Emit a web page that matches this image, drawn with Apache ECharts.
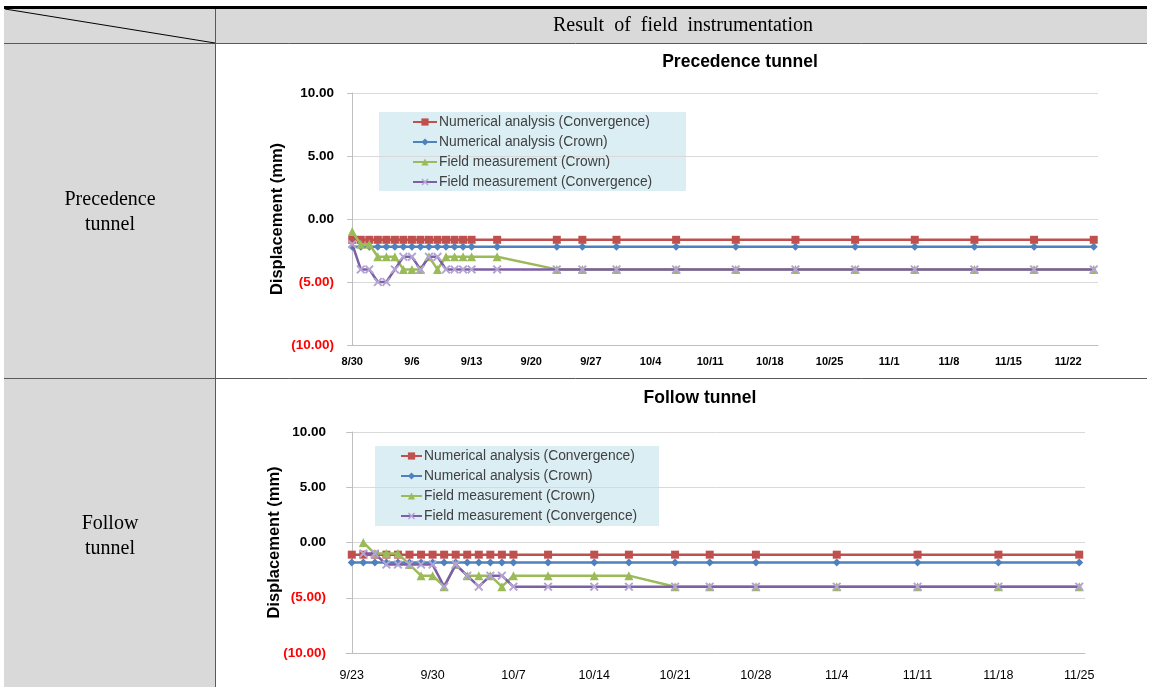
<!DOCTYPE html>
<html><head><meta charset="utf-8">
<script src="https://cdn.jsdelivr.net/npm/echarts@6/dist/echarts.min.js"></script>
<style>html,body{margin:0;padding:0;background:#fff}#c{width:1149px;height:687px}</style>
</head><body><div id="c"></div><script>
// ---------- data ----------
const seriesNames = ['Numerical analysis (Convergence)', 'Numerical analysis (Crown)', 'Field measurement (Crown)', 'Field measurement (Convergence)'];

// Precedence tunnel
const dates1 = ['8/30','8/31','9/1','9/2','9/3','9/4','9/5','9/6','9/7','9/8','9/9','9/10','9/11','9/12','9/13','9/16','9/23','9/26','9/30','10/7','10/14','10/21','10/28','11/4','11/11','11/18','11/25'];
const numConv1 = [-1.65,-1.65,-1.65,-1.65,-1.65,-1.65,-1.65,-1.65,-1.65,-1.65,-1.65,-1.65,-1.65,-1.65,-1.65,-1.65,-1.65,-1.65,-1.65,-1.65,-1.65,-1.65,-1.65,-1.65,-1.65,-1.65,-1.65];
const numCrown1 = [-2.2,-2.2,-2.2,-2.2,-2.2,-2.2,-2.2,-2.2,-2.2,-2.2,-2.2,-2.2,-2.2,-2.2,-2.2,-2.2,-2.2,-2.2,-2.2,-2.2,-2.2,-2.2,-2.2,-2.2,-2.2,-2.2,-2.2];
const fieldCrown1 = [-1,-2,-2,-3,-3,-3,-4,-4,-4,-3,-4,-3,-3,-3,-3,-3,-4,-4,-4,-4,-4,-4,-4,-4,-4,-4,-4];
const fieldConv1 = [-2,-4,-4,-5,-5,-4,-3,-3,-4,-3,-3,-4,-4,-4,-4,-4,-4,-4,-4,-4,-4,-4,-4,-4,-4,-4,-4];
const xTicks1 = ['8/30','9/6','9/13','9/20','9/27','10/4','10/11','10/18','10/25','11/1','11/8','11/15','11/22'];

// Follow tunnel
const dates2 = ['9/23','9/24','9/25','9/26','9/27','9/28','9/29','9/30','10/1','10/2','10/3','10/4','10/5','10/6','10/7','10/10','10/14','10/17','10/21','10/24','10/28','11/4','11/11','11/18','11/25'];
const numConv2 = [-1.1,-1.1,-1.1,-1.1,-1.1,-1.1,-1.1,-1.1,-1.1,-1.1,-1.1,-1.1,-1.1,-1.1,-1.1,-1.1,-1.1,-1.1,-1.1,-1.1,-1.1,-1.1,-1.1,-1.1,-1.1];
const numCrown2 = [-1.8,-1.8,-1.8,-1.8,-1.8,-1.8,-1.8,-1.8,-1.8,-1.8,-1.8,-1.8,-1.8,-1.8,-1.8,-1.8,-1.8,-1.8,-1.8,-1.8,-1.8,-1.8,-1.8,-1.8,-1.8];
const fieldCrown2 = [null,0,-1,-1,-1,-2,-3,-3,-4,-2,-3,-3,-3,-4,-3,-3,-3,-3,-4,-4,-4,-4,-4,-4,-4];
const fieldConv2 = [null,-1,-1,-2,-2,-2,-2,-2,-4,-2,-3,-4,-3,-3,-4,-4,-4,-4,-4,-4,-4,-4,-4,-4,-4];
const xTicks2 = ['9/23','9/30','10/7','10/14','10/21','10/28','11/4','11/11','11/18','11/25'];

const yTickLabels = ['(10.00)','(5.00)','0.00','5.00','10.00'];

// ---------- helpers ----------
function dayOf(md) { const p = md.split('/'); return Date.UTC(2013, +p[0]-1, +p[1]) / 86400000; }
function offsets(list, start) { const s = dayOf(start); return list.map(d => dayOf(d) - s); }
function pairs(dates, vals, start) {
  const xs = offsets(dates, start);
  return xs.map((x, i) => [x, vals[i]]).filter(p => p[1] !== null);
}

const SANS = "'Liberation Sans', Arial, sans-serif";
const SERIF = "'Liberation Serif', 'Times New Roman', serif";
const colors = ['#c0504d', '#4f81bd', '#9bbb59', '#7d5fa6'];
const markColors = ['#c0504d', '#4f81bd', '#9bbb59', '#b3a4d3'];
const symbols = ['rect', 'diamond', 'triangle', 'path://M0,1.5L1.5,0L5,3.5L8.5,0L10,1.5L6.5,5L10,8.5L8.5,10L5,6.5L1.5,10L0,8.5L3.5,5Z'];
const symSizes = [8, 8, 9, 9];

function makeX(idx, ticks, start, min, max, fs, bold, margin, family) {
  const vals = offsets(ticks, start);
  return {
    type: 'value', gridIndex: idx, min: min, max: max,
    axisLine: { show: true, onZero: false, lineStyle: { color: '#bfbfbf', width: 1 } },
    axisTick: { show: false },
    splitLine: { show: false },
    axisLabel: {
      customValues: vals, margin: margin, fontSize: fs, fontWeight: bold ? 'bold' : 'normal',
      fontFamily: family, color: '#000',
      formatter: v => { const k = vals.indexOf(v); return k >= 0 ? ticks[k] : ''; }
    }
  };
}
function makeY(idx, gap, margin) {
  return {
    type: 'value', gridIndex: idx, min: -10, max: 10, interval: 5,
    name: 'Displacement (mm)', nameLocation: 'middle', nameGap: gap, nameMoveOverlap: false,
    nameTextStyle: { fontSize: 16.5, fontWeight: 'bold', color: '#000', fontFamily: SANS },
    axisLine: { show: true, lineStyle: { color: '#bfbfbf', width: 1 } },
    axisTick: { show: true, length: 5, lineStyle: { color: '#bfbfbf' } },
    splitLine: { show: true, lineStyle: { color: '#d9d9d9', width: 1 } },
    axisLabel: {
      margin: margin, fontSize: 13.5, fontWeight: 'bold', fontFamily: SANS,
      formatter: (v, i) => yTickLabels[Math.round((v + 10) / 5)],
      color: v => (+v < 0 ? '#ff0000' : '#000')
    }
  };
}
function makeSeries(axisIdx, dates, arrays, start) {
  return arrays.map((arr, k) => ({
    type: 'line', name: seriesNames[k], xAxisIndex: axisIdx, yAxisIndex: axisIdx,
    data: pairs(dates, arr, start),
    symbol: symbols[k], symbolSize: symSizes[k], showAllSymbol: true,
    lineStyle: { color: colors[k], width: 2.5 },
    itemStyle: { color: markColors[k] },
    z: 2 + k, animation: false
  }));
}
function makeLegend(left, top, iw) {
  return {
    orient: 'vertical', left: left, top: top, padding: 0,
    itemWidth: iw, itemHeight: 9, itemGap: 6, selectedMode: false,
    data: seriesNames,
    textStyle: { fontSize: 13.8, color: '#404040', fontFamily: SANS, lineHeight: 14, padding: [0, 0, 0, -3] }
  };
}

const GRAY = '#d9d9d9';
const LINE = '#595959';
const graphics = [
  { type: 'rect', z: -10, shape: { x: 4, y: 9, width: 1143, height: 34 }, style: { fill: GRAY } },
  { type: 'rect', z: -10, shape: { x: 4, y: 43, width: 211, height: 644 }, style: { fill: GRAY } },
  { type: 'line', z: -5, shape: { x1: 4, y1: 7.5, x2: 1147, y2: 7.5 }, style: { stroke: '#000', lineWidth: 3 } },
  { type: 'line', z: -5, shape: { x1: 4, y1: 43.5, x2: 1147, y2: 43.5 }, style: { stroke: LINE, lineWidth: 1 } },
  { type: 'line', z: -5, shape: { x1: 4, y1: 378.5, x2: 1147, y2: 378.5 }, style: { stroke: LINE, lineWidth: 1 } },
  { type: 'line', z: -5, shape: { x1: 215.5, y1: 9, x2: 215.5, y2: 687 }, style: { stroke: LINE, lineWidth: 1 } },
  { type: 'line', z: -5, shape: { x1: 5, y1: 9, x2: 215, y2: 43 }, style: { stroke: '#000', lineWidth: 1 } },
  { type: 'text', z: -4, style: { text: 'Result  of  field  instrumentation', x: 683, y: 26, align: 'center', verticalAlign: 'middle', font: '20px ' + SERIF, fill: '#000' } },
  { type: 'text', z: -4, style: { text: 'Precedence\ntunnel', x: 110, y: 212, align: 'center', verticalAlign: 'middle', font: '20px ' + SERIF, fill: '#000', lineHeight: 25 } },
  { type: 'text', z: -4, style: { text: 'Follow\ntunnel', x: 110, y: 536, align: 'center', verticalAlign: 'middle', font: '20px ' + SERIF, fill: '#000', lineHeight: 25 } },
  { type: 'rect', z: -3, shape: { x: 379, y: 112, width: 307, height: 79 }, style: { fill: '#dbeef4' } },
  { type: 'rect', z: -3, shape: { x: 375, y: 446, width: 284, height: 80 }, style: { fill: '#dbeef4' } }
];

const chart = echarts.init(document.getElementById('c'));
chart.setOption({
  animation: false,
  backgroundColor: '#fff',
  title: [
    { text: 'Precedence tunnel', left: 740, top: 53, textAlign: 'center', padding: 0,
      textStyle: { fontSize: 17.5, fontWeight: 'bold', color: '#000', fontFamily: SANS } },
    { text: 'Follow tunnel', left: 700, top: 389, textAlign: 'center', padding: 0,
      textStyle: { fontSize: 17.5, fontWeight: 'bold', color: '#000', fontFamily: SANS } }
  ],
  legend: [makeLegend(412, 115, 24), makeLegend(400, 449, 21)],
  grid: [
    { left: 348, top: 93, width: 750, height: 252 },
    { left: 346, top: 432, width: 739, height: 221 }
  ],
  xAxis: [
    makeX(0, xTicks1, '8/30', -0.5, 87.5, 11, true, 11, SANS),
    makeX(1, xTicks2, '9/23', -0.5, 63.5, 12.5, false, 16, SANS)
  ],
  yAxis: [makeY(0, 62, 14), makeY(1, 63, 20)],
  graphic: graphics,
  series: [].concat(
    makeSeries(0, dates1, [numConv1, numCrown1, fieldCrown1, fieldConv1], '8/30'),
    makeSeries(1, dates2, [numConv2, numCrown2, fieldCrown2, fieldConv2], '9/23')
  )
});
</script></body></html>
